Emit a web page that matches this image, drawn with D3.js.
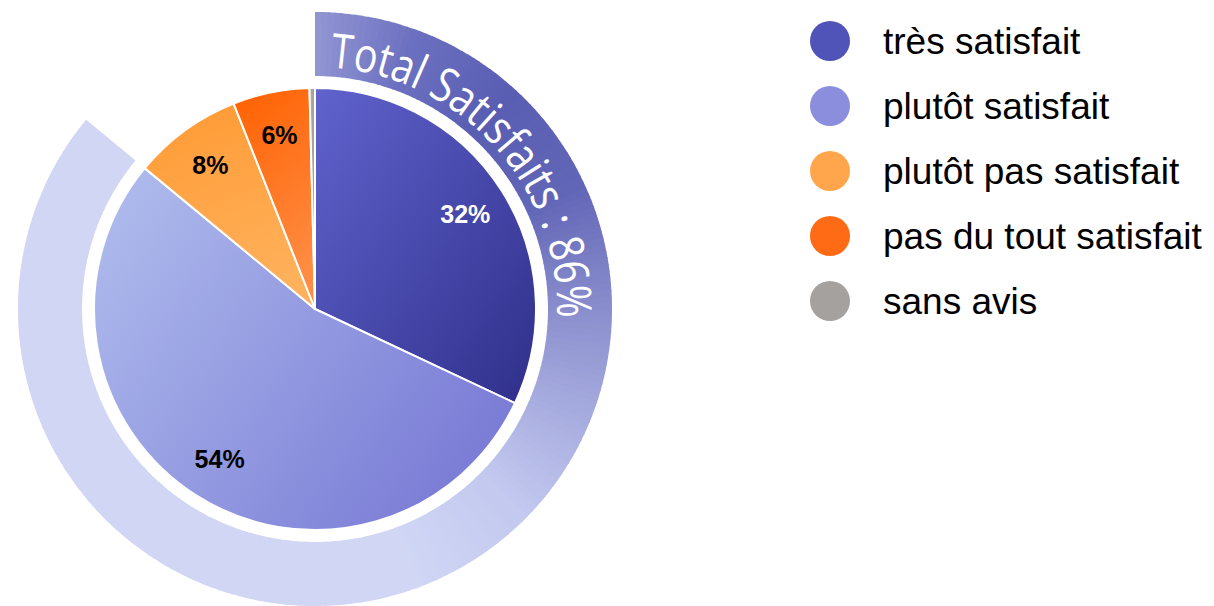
<!DOCTYPE html>
<html>
<head>
<meta charset="utf-8">
<script src="https://cdn.jsdelivr.net/npm/d3@7/dist/d3.min.js"></script>
<style>
  body { margin: 0; background: #fff; }
  svg { display: block; }
</style>
</head>
<body>
<div id="chart"></div>
<script>
// data
var categories = ["très satisfait", "plutôt satisfait", "plutôt pas satisfait", "pas du tout satisfait", "sans avis"];
var values = [32, 54, 8, 5.6, 0.4];
var satisfied = ["très satisfait", "plutôt satisfait"];
var ringTitle = "Total Satisfaits : ";

// palette
var legendColors = ["#5053b8", "#8a8edc", "#ffa64d", "#ff6a14", "#a5a19f"];
var sliceGrad = [
  ["#6063cd", "#2f2f8a", 0, 0, 1, 1],
  ["#adb9ec", "#7778d4", 0, 0.2, 1, 0.8],
  ["#ff9a33", "#ffb05a", 0, 0, 0.3, 1],
  ["#ff6000", "#ff8c42", 0, 0, 0.3, 1],
  ["#b5b1b0", "#9e9a98", 0, 0, 1, 0]
];
var labelColors = ["#fff", "#000", "#000", "#000", "#000"];
var ringStops = [0, 20, 42, 65, 90, 112, 135, 160, 360];
var ringColors = ["#9296d3", "#6c70c0", "#5a5eb3", "#6266b7", "#8a8ecd", "#a7acdf", "#c3c9ef", "#d0d6f4", "#d0d6f4"];

var width = 1214, height = 606,
  cx = 315, cy = 309,
  r = 221, ringIn = 233, ringOut = 297;

var svg = d3.select("#chart").append("svg")
  .attr("width", width)
  .attr("height", height);

var defs = svg.append("defs");

sliceGrad.forEach(function(g, i) {
  var lg = defs.append("linearGradient")
    .attr("id", "sg" + i)
    .attr("x1", g[2]).attr("y1", g[3])
    .attr("x2", g[4]).attr("y2", g[5]);
  lg.append("stop").attr("offset", 0).attr("stop-color", g[0]);
  lg.append("stop").attr("offset", 1).attr("stop-color", g[1]);
});

var g = svg.append("g").attr("transform", "translate(" + cx + "," + cy + ")");

// outer ring for satisfied total
var total = d3.sum(values);
var satTotal = d3.sum(values.filter(function(v, i) { return satisfied.indexOf(categories[i]) >= 0; }));
var ringEnd = satTotal / total * 2 * Math.PI;

var ringColor = d3.scaleLinear()
  .domain(ringStops.map(function(d) { return d * Math.PI / 180; }))
  .range(ringColors)
  .interpolate(d3.interpolateRgb);

var nSeg = 240;
var segs = d3.range(nSeg).map(function(i) {
  return { a0: ringEnd * i / nSeg, a1: ringEnd * (i + 1) / nSeg };
});

var ringArc = d3.arc().innerRadius(ringIn).outerRadius(ringOut);

g.append("g").selectAll("path")
  .data(segs)
  .enter().append("path")
    .attr("d", function(d) {
      return ringArc({ startAngle: d.a0, endAngle: Math.min(d.a1 + 0.004, ringEnd) });
    })
    .attr("fill", function(d) { return ringColor((d.a0 + d.a1) / 2); });

// ring title along arc
var textR = 242;
var tp = d3.path();
tp.arc(0, 0, textR, -Math.PI / 2, -Math.PI / 2 + ringEnd);
defs.append("path").attr("id", "ringPath").attr("d", tp.toString());

g.append("text")
  .attr("font-family", "'Open Sans', sans-serif")
  .attr("font-size", 48)
  .attr("fill", "#fff")
  .append("textPath")
    .attr("href", "#ringPath")
    .attr("startOffset", textR * 3.5 * Math.PI / 180)
    .attr("textLength", 374)
    .attr("lengthAdjust", "spacingAndGlyphs")
    .text(ringTitle + Math.round(satTotal / total * 100) + "%");

// pie
var pie = d3.pie().sort(null).value(function(d) { return d; });
var arc = d3.arc().innerRadius(0).outerRadius(r);
var labelArc = d3.arc().innerRadius(178).outerRadius(178);
var arcs = pie(values);

g.append("g").selectAll("path")
  .data(arcs)
  .enter().append("path")
    .attr("d", arc)
    .attr("fill", function(d, i) { return "url(#sg" + i + ")"; })
    .attr("stroke", "#fff")
    .attr("stroke-width", 2)
    .attr("stroke-linejoin", "round");

g.append("g").selectAll("text")
  .data(arcs.filter(function(d) { return d.value >= 1; }))
  .enter().append("text")
    .attr("transform", function(d) { return "translate(" + labelArc.centroid(d) + ")"; })
    .attr("text-anchor", "middle")
    .attr("dy", "0.36em")
    .attr("font-family", "'Liberation Sans', Arial, sans-serif")
    .attr("font-weight", "bold")
    .attr("font-size", 25)
    .attr("fill", function(d) { return labelColors[d.index]; })
    .text(function(d) { return Math.round(d.value) + "%"; });

// legend
var ly = d3.scalePoint().domain(categories).range([41, 301]);

var legend = svg.append("g").selectAll("g")
  .data(categories)
  .enter().append("g")
    .attr("transform", function(d) { return "translate(830," + ly(d) + ")"; });

legend.append("circle")
  .attr("r", 20)
  .attr("fill", function(d, i) { return legendColors[i]; });

legend.append("text")
  .attr("x", 53)
  .attr("y", 13)
  .attr("font-family", "'Liberation Sans', Arial, sans-serif")
  .attr("font-size", 37)
  .attr("fill", "#000")
  .text(function(d) { return d; });
</script>
</body>
</html>
